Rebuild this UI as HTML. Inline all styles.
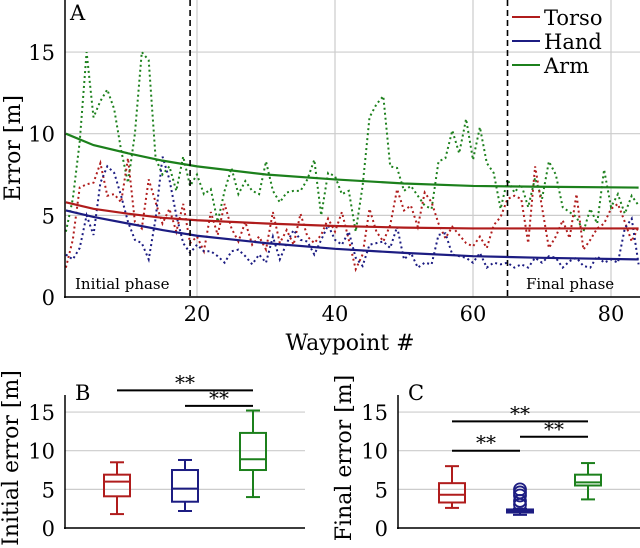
<!DOCTYPE html>
<html><head><meta charset="utf-8"><style>
body{margin:0;background:#fff;}
svg{display:block;font-family:"DejaVu Serif","Liberation Serif",serif;}
</style></head><body>
<svg id="c" width="640" height="548" viewBox="0 0 640 548"></svg>
<script>
const waypoints = Array.from({length:84},(_,i)=>i+1);
const armSeries = [4.0,6,9.5,15,11,12,12.7,11.5,9,7,10,15,14.5,8.5,7.5,8,6.5,8.6,6.8,7.5,6.3,6.6,4.6,6.5,7.9,6.3,7.1,6.5,6.3,8.3,6.5,5.8,6.4,6.5,6.5,7.2,8.4,5,7.6,7.4,6.3,6.5,4,6.8,11,11.8,12.3,8,7.9,6.5,6.8,6.2,5.6,5.4,8.3,8.5,10.2,8.8,10.9,8.4,10.4,8.2,7.6,5.4,7.2,6.4,6.9,5.5,7.3,6,8.3,7.5,5.5,5.2,4.9,4,5.4,4.5,7.8,5.5,6.3,5.1,6.2,5.6];
const torsoSeries = [1.8,3.5,6.7,6.9,7,8.2,6.2,6.3,5.8,8.5,4.6,4.2,7.2,5.8,4.5,5.4,4,5.7,3.3,3.7,2.8,5.2,3.8,5.7,4.2,3.4,4.6,3.2,3.7,2.9,5.2,3.3,4.1,3.2,5.1,3.7,3.3,3.8,4.8,4,5.2,3.5,1.7,2.6,5.4,4,3.4,4.4,6.6,5.3,5.6,4.3,6.4,5.8,4.5,3.6,4.3,3.8,3.3,3.1,3.7,3,4.4,4.9,6,6.2,6,3.3,8,5.5,3,3.7,4.7,3.6,6.3,2.9,3.5,4.2,4.5,5.4,5.7,4.6,3.4,4.3];
const handSeries = [2.6,2.3,3,5,3.8,7,8,7.6,6.2,4.6,3.5,3.3,2.3,4.8,8.6,7.2,5,3.3,2.7,3.2,2.8,2.8,2.5,2.1,2.8,2.9,2.5,2,2.6,2.1,3.7,2.3,3.3,4.1,3.5,3.4,2.6,3.5,4.4,3.5,3.2,4,2.4,1.9,3.2,3.3,3.4,3,4.3,2.3,2.7,1.8,2.1,2,3.8,3.9,2.6,2.5,2.4,2.1,2.7,1.8,2.1,2,2.1,1.8,2,1.8,2.4,2.1,2.5,2.4,1.8,2.2,2.4,1.9,1.8,2.5,2.1,2.3,2.1,4.2,4.8,2];
const fitX = [1,5,10,15,20,30,40,50,60,70,84];
const armFit = [10,9.3,8.8,8.35,8.0,7.5,7.2,6.95,6.8,6.75,6.7];
const torsoFit = [5.8,5.4,5.1,4.85,4.7,4.5,4.35,4.25,4.2,4.2,4.2];
const handFit = [5.3,4.9,4.5,4.1,3.75,3.3,2.95,2.7,2.5,2.4,2.3];
const yTicks = [0,5,10,15];
const xTicks = [20,40,60,80];
const phaseBounds = [19,65];
const boxCats = ['Torso','Hand','Arm'];
// [whiskerLow, q1, median, q3, whiskerHigh]
const initialBoxes = [[1.8,4.1,6.0,6.9,8.5],[2.2,3.4,5.1,7.5,8.8],[4.0,7.5,8.9,12.3,15.2]];
const finalBoxes = [[2.6,3.3,4.3,5.8,8.0],[1.7,2.0,2.2,2.4,2.5],[3.7,5.5,5.9,6.9,8.4]];
const finalHandFliers = [3.0,3.5,4.2,4.6,5.0];
const initialSig = [[0,2,17.8],[1,2,15.8]];
const finalSig = [[0,2,13.8],[1,2,11.8],[0,1,10.0]];

const colors = ['#b01c1c','#1c1c82','#1c801c'];
const svg = document.getElementById('c');
const NS='http://www.w3.org/2000/svg';
function mk(tag, attrs, parent, name){
  const e=document.createElementNS(NS,tag);
  for(const k in attrs) e.setAttribute(k,attrs[k]);
  
  
  (parent||svg).appendChild(e); return e;
}
const FS=21;
// Panel A
const ax = v => 59 + v*6.9;
const ay = v => 297 - v*16.33;
const gA = mk('g',{},svg,'panel-a');
yTicks.forEach(t=>{
  mk('line',{x1:65,x2:640,y1:ay(t),y2:ay(t),stroke:'#cccccc','stroke-width':1.2},gA,'grid-y');
  const tx=mk('text',{x:55,y:ay(t)+8,'text-anchor':'end','font-size':FS},gA,'y-tick-label'); tx.textContent=t;
});
xTicks.forEach(t=>{
  mk('line',{x1:ax(t),x2:ax(t),y1:0,y2:297,stroke:'#cccccc','stroke-width':1.2},gA,'grid-x');
  const tx=mk('text',{x:ax(t),y:321,'text-anchor':'middle','font-size':FS},gA,'x-tick-label'); tx.textContent=t;
});
[[armSeries,2],[torsoSeries,0],[handSeries,1]].forEach(([s,c])=>{
  mk('polyline',{points:s.map((v,i)=>ax(waypoints[i])+','+ay(v)).join(' '),fill:'none',stroke:colors[c],'stroke-width':2,'stroke-dasharray':'2,3'},gA,'raw-'+boxCats[c].toLowerCase());
});
[[armFit,2],[torsoFit,0],[handFit,1]].forEach(([s,c])=>{
  mk('polyline',{points:s.map((v,i)=>ax(fitX[i])+','+ay(v)).join(' '),fill:'none',stroke:colors[c],'stroke-width':2.2},gA,'fit-'+boxCats[c].toLowerCase());
});
phaseBounds.forEach(p=>mk('line',{x1:ax(p),x2:ax(p),y1:0,y2:297,stroke:'#000','stroke-width':1.6,'stroke-dasharray':'6,4'},gA,'phase-boundary'));
mk('line',{x1:65,x2:65,y1:0,y2:298,stroke:'#000','stroke-width':1.5},gA,'y-axis');
mk('line',{x1:64,x2:640,y1:297,y2:297,stroke:'#000','stroke-width':1.5},gA,'x-axis');
let t;
t=mk('text',{x:70,y:20,'font-size':FS},gA,'panel-label-a');t.textContent='A';
t=mk('text',{x:75,y:289,'font-size':15},gA,'initial-phase-label');t.textContent='Initial phase';
t=mk('text',{x:526,y:289,'font-size':15},gA,'final-phase-label');t.textContent='Final phase';
t=mk('text',{x:350,y:350,'text-anchor':'middle','font-size':22},gA,'x-axis-title');t.textContent='Waypoint #';
t=mk('text',{x:0,y:0,'text-anchor':'middle','font-size':22,transform:'translate(20,148) rotate(-90)'},gA,'y-axis-title');t.textContent='Error [m]';
boxCats.forEach((n,i)=>{
  const y=17+i*24;
  mk('line',{x1:512,x2:540,y1:y,y2:y,stroke:colors[i],'stroke-width':2},gA,'legend-swatch');
  const l=mk('text',{x:544,y:y+8,'font-size':FS},gA,'legend-entry');l.textContent=n;
});
// Box panels
function boxPanel(x0,x1,centers,boxes,sig,label,title,name){
  const g=mk('g',{},svg,name);
  const by=v=>528-v*7.73;
  yTicks.forEach(tk=>{
    mk('line',{x1:x0,x2:x1,y1:by(tk),y2:by(tk),stroke:'#cccccc','stroke-width':1.2},g,'grid-y');
    const tx=mk('text',{x:x0-10,y:by(tk)+8,'text-anchor':'end','font-size':FS},g,'y-tick-label');tx.textContent=tk;
  });
  boxes.forEach((b,i)=>{
    const cx=centers[i],w=13,c=colors[i];
    const bg=mk('g',{stroke:c,'stroke-width':2,fill:'none'},g,'box-'+boxCats[i].toLowerCase());
    mk('line',{x1:cx,x2:cx,y1:by(b[0]),y2:by(b[1])},bg,'whisker-low');
    mk('line',{x1:cx,x2:cx,y1:by(b[3]),y2:by(b[4])},bg,'whisker-high');
    mk('line',{x1:cx-7,x2:cx+7,y1:by(b[0]),y2:by(b[0])},bg,'cap-low');
    mk('line',{x1:cx-7,x2:cx+7,y1:by(b[4]),y2:by(b[4])},bg,'cap-high');
    mk('rect',{x:cx-w,y:by(b[3]),width:2*w,height:by(b[1])-by(b[3])},bg,'box-body');
    mk('line',{x1:cx-w,x2:cx+w,y1:by(b[2]),y2:by(b[2])},bg,'median');
  });
  sig.forEach(s=>{
    const a=centers[s[0]],b=centers[s[1]],y=by(s[2]);
    mk('line',{x1:a,x2:b,y1:y,y2:y,stroke:'#000','stroke-width':2},g,'significance-bar');
    const tx=mk('text',{x:(a+b)/2,y:y-1,'text-anchor':'middle','font-size':20},g,'significance-stars');tx.textContent='**';
  });
  mk('line',{x1:x0,x2:x0,y1:395,y2:529,stroke:'#000','stroke-width':1.5},g,'y-axis');
  mk('line',{x1:x0-1,x2:x1,y1:528,y2:528,stroke:'#000','stroke-width':1.5},g,'x-axis');
  const l=mk('text',{x:x0+10,y:400,'font-size':FS},g,'panel-label');l.textContent=label;
  const tt=mk('text',{x:0,y:0,'text-anchor':'middle','font-size':22,transform:'translate('+(x0-47)+',458) rotate(-90)'},g,'y-axis-title');tt.textContent=title;
  return {g,by};
}
boxPanel(65,305,[117,185,253],initialBoxes,initialSig,'B','Initial error [m]','panel-b');
const pc=boxPanel(398,640,[452,520,588],finalBoxes,finalSig,'C','Final error [m]','panel-c');
finalHandFliers.forEach(v=>{
  mk('circle',{cx:520,cy:pc.by(v),r:6,fill:'none',stroke:colors[1],'stroke-width':1.8},pc.g,'outlier-hand');
});
</script>
</body></html>
